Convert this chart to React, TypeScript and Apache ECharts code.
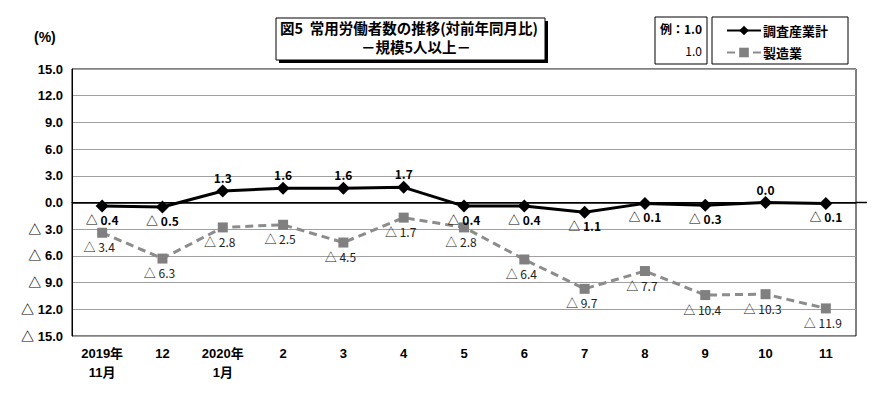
import React, { useEffect, useRef } from "react";
import * as echarts from "echarts";

const categories = ["2019年\n11月", "12", "2020年\n1月", "2", "3", "4", "5", "6", "7", "8", "9", "10", "11"];
const totalIndustry = [-0.4, -0.5, 1.3, 1.6, 1.6, 1.7, -0.4, -0.4, -1.1, -0.1, -0.3, 0.0, -0.1];
const manufacturing = [-3.4, -6.3, -2.8, -2.5, -4.5, -1.7, -2.8, -6.4, -9.7, -7.7, -10.4, -10.3, -11.9];
const seriesNames = ["調査産業計", "製造業"];
const titleLines = ["図5  常用労働者数の推移(対前年同月比)", "－規模5人以上－"];

const fmt = (v: number) => (v < 0 ? "△ " + Math.abs(v).toFixed(1) : v.toFixed(1));
const FONT = "'Liberation Sans', Arial, 'Noto Sans CJK JP', sans-serif";
const CJK = "'Noto Sans CJK JP', sans-serif";
const NARROW = "'Liberation Sans Narrow', 'Noto Sans CJK JP', 'DejaVu Sans Condensed', sans-serif";

export default function App() {
  const ref = useRef<HTMLDivElement>(null);
  useEffect(() => {
    if (!ref.current) return;
    const chart = echarts.init(ref.current, null, { renderer: "svg" });
    const gridLeft = 72, gridTop = 69, gridRight = 34, gridBottom = 60;
    chart.setOption({
      animation: false,
      backgroundColor: "#fff",
      textStyle: { fontFamily: FONT },
      grid: {
        left: gridLeft, top: gridTop, right: gridRight, bottom: gridBottom,
        show: true, borderColor: "#000", borderWidth: 1, backgroundColor: "transparent",
      },
      legend: {
        orient: "vertical",
        left: 712, top: 17, width: 136,
        padding: [7, 20, 5, 14],
        itemGap: 9,
        itemWidth: 34, itemHeight: 12,
        borderColor: "#000", borderWidth: 1,
        textStyle: { fontWeight: "bold", fontSize: 13, color: "#000", fontFamily: CJK, padding: [0, 0, 0, -3] },
        data: seriesNames,
      },
      xAxis: {
        type: "category",
        data: categories,
        boundaryGap: true,
        axisLine: { show: true, lineStyle: { color: "#000" } },
        axisTick: { show: false },
        axisLabel: { fontWeight: "bold", fontSize: 13, color: "#000", margin: 8, lineHeight: 19, interval: 0 },
        splitLine: { show: false },
      },
      yAxis: {
        type: "value",
        min: -15, max: 15, interval: 3,
        axisLine: { show: true, lineStyle: { color: "#000" } },
        axisTick: { show: false },
        axisLabel: { formatter: fmt, fontWeight: "bold", fontSize: 13, color: "#000", margin: 9 },
        splitLine: { show: true, lineStyle: { color: "#a0a0a0", width: 1 } },
      },
      series: [
        {
          name: seriesNames[0],
          type: "line",
          data: totalIndustry.map((v) => ({
            value: v,
            label: { position: v >= 0 ? "top" : "bottom" },
          })),
          z: 3,
          color: "#000",
          lineStyle: { color: "#000", width: 3 },
          symbol: "diamond", symbolSize: 13,
          itemStyle: { color: "#000" },
          label: {
            show: true,
            formatter: (p: any) => fmt(p.value),
            position: "bottom",
            distance: 1,
            fontWeight: "bold", fontSize: 12, color: "#000", fontFamily: NARROW,
          },
          markLine: {
            silent: true, symbol: "none",
            label: { show: false },
            lineStyle: { color: "#000", width: 1.5, type: "solid" },
            data: [{ yAxis: 0 }],
          },
        },
        {
          name: seriesNames[1],
          type: "line",
          data: manufacturing,
          z: 2,
          color: "#808080",
          lineStyle: { color: "#8c8c8c", width: 3, type: [8, 5] },
          symbol: "rect", symbolSize: 10,
          itemStyle: { color: "#808080" },
          label: {
            show: true,
            formatter: (p: any) => fmt(p.value),
            position: "bottom",
            distance: 3,
            offset: [-3, 0],
            fontSize: 12, color: "#222", fontFamily: NARROW,
          },
        },
      ],
    });
    const y0 = chart.convertToPixel({ yAxisIndex: 0 }, 0) as number;
    const W = 890;
    chart.setOption({
      graphic: [
        {
          type: "line",
          shape: { x1: W - gridRight, y1: y0, x2: W - gridRight + 11, y2: y0 },
          style: { stroke: "#000", lineWidth: 1.5 },
        },
        { type: "text", x: 34, y: 30, style: { text: "(%)", font: `bold 14px ${FONT}`, fill: "#000" } },
        // title box
        { type: "rect", shape: { x: 279, y: 21, width: 269, height: 42 }, style: { fill: "#000" } },
        { type: "rect", shape: { x: 276, y: 18, width: 269, height: 42 }, style: { fill: "#fff", stroke: "#000", lineWidth: 1 } },
        { type: "text", x: 280, y: 20, style: { text: titleLines[0], font: `bold 14.5px ${CJK}`, fill: "#000" } },
        { type: "text", x: 416, y: 39, style: { text: titleLines[1], font: `bold 14.5px ${CJK}`, fill: "#000", align: "center" } },
        // example box
        { type: "rect", shape: { x: 655, y: 17, width: 52, height: 47 }, style: { fill: "#fff", stroke: "#000", lineWidth: 1 } },
        { type: "text", x: 702, y: 22, style: { text: "例：1.0", font: `bold 12px ${CJK}`, fill: "#000", align: "right" } },
        { type: "text", x: 702, y: 44, style: { text: "1.0", font: `12px ${NARROW}`, fill: "#000", align: "right" } },
      ],
    });
    return () => chart.dispose();
  }, []);
  return <div ref={ref} style={{ width: 890, height: 396, position: "absolute", left: 0, top: 0 }} />;
}
